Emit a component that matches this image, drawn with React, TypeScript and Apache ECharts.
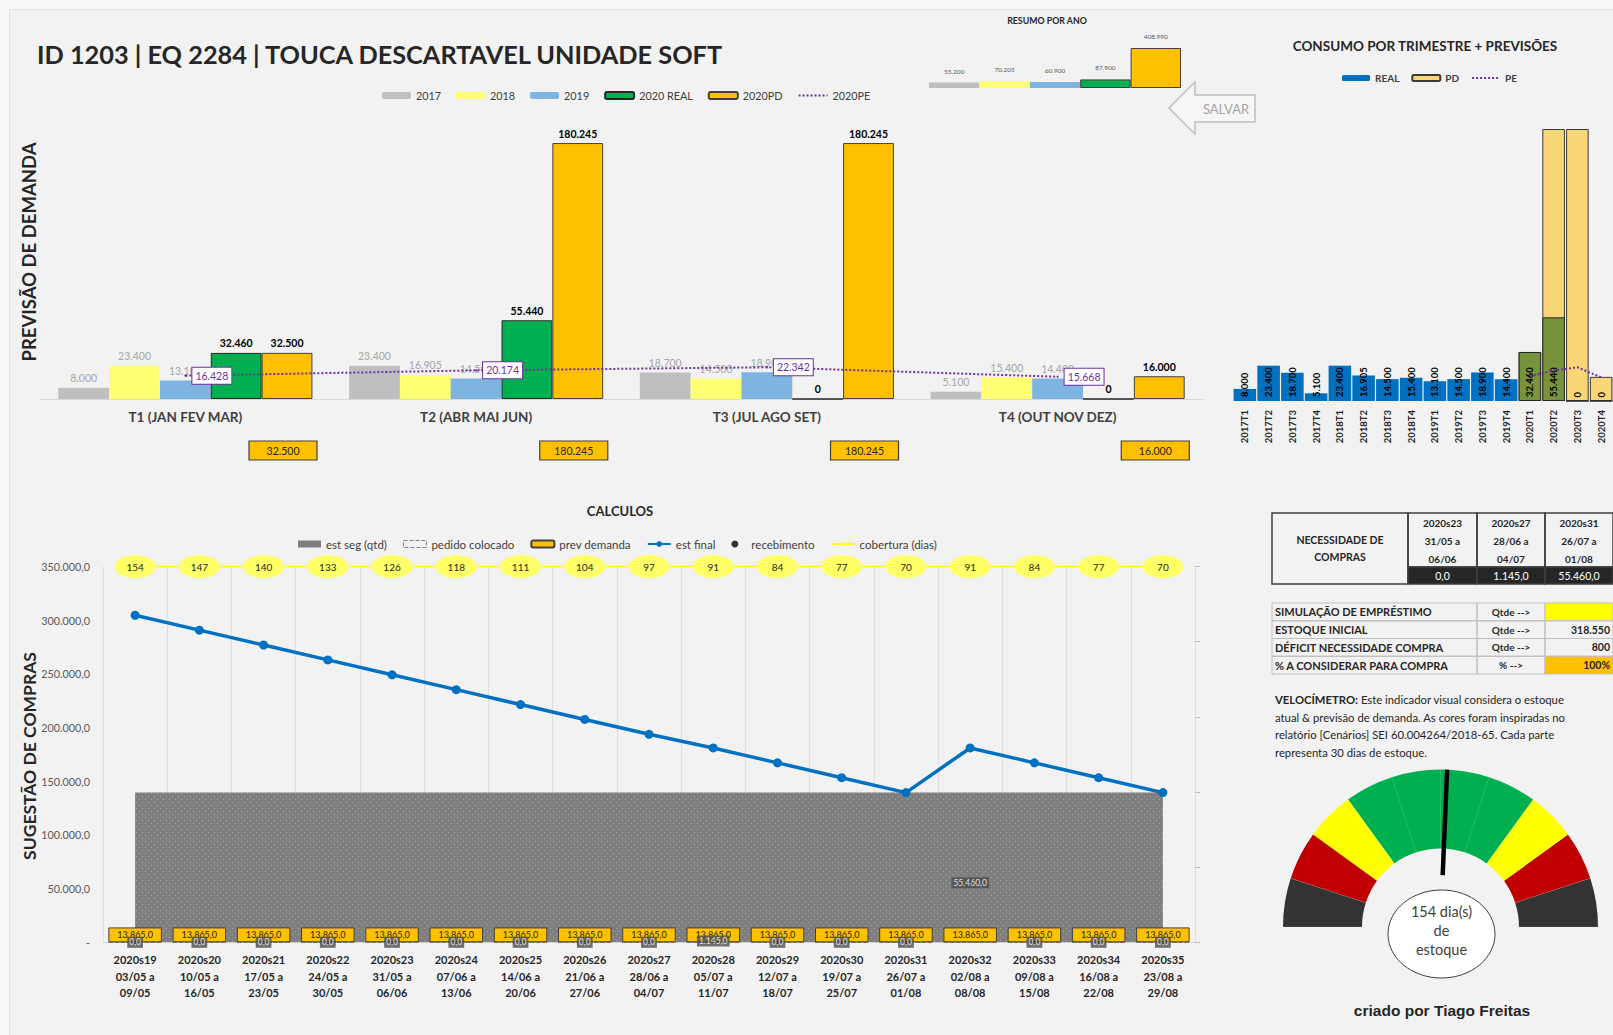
import React, { useEffect, useRef } from 'react';
import * as echarts from 'echarts';

const FONT = 'Lato, "Open Sans", sans-serif';

// ---------- Top chart: demand by quarter ----------
const QUARTERS = ['T1 (JAN FEV MAR)', 'T2 (ABR MAI JUN)', 'T3 (JUL AGO SET)', 'T4 (OUT NOV DEZ)'];
const D2017 = [8000, 23400, 18700, 5100];
const D2018 = [23400, 16905, 14500, 15400];
const D2019 = [13100, 14500, 18900, 14400];
const D2020_REAL = [32460, 55440, 0, 0];
const D2020_PD = [32500, 180245, 180245, 16000];
const D2020_PE = [16428, 20174, 22342, 15668];

// ---------- Summary per year ----------
const YEAR_NAMES = ['2017', '2018', '2019', '2020 REAL', '2020PD'];
const YEAR_TOTALS = [55200, 70205, 60900, 87900, 408990];

// ---------- Consumption per quarter ----------
const QTR_CODES = ['2017T1', '2017T2', '2017T3', '2017T4', '2018T1', '2018T2', '2018T3', '2018T4',
  '2019T1', '2019T2', '2019T3', '2019T4', '2020T1', '2020T2', '2020T3', '2020T4'];
const QTR_REAL = [8000, 23400, 18700, 5100, 23400, 16905, 14500, 15400, 13100, 14500, 18900, 14400, 32460, 55440, 0, 0];
const QTR_PD = [null, null, null, null, null, null, null, null, null, null, null, null, 32500, 180245, 180245, 16000];
const QTR_PE = [null, null, null, null, null, null, null, null, null, null, null, null, 16428, 20174, 22342, 15668];

// ---------- Calculations (weekly) ----------
const WEEK_CODES = ['2020s19', '2020s20', '2020s21', '2020s22', '2020s23', '2020s24', '2020s25', '2020s26', '2020s27',
  '2020s28', '2020s29', '2020s30', '2020s31', '2020s32', '2020s33', '2020s34', '2020s35'];
const WEEK_FROM = ['03/05', '10/05', '17/05', '24/05', '31/05', '07/06', '14/06', '21/06', '28/06',
  '05/07', '12/07', '19/07', '26/07', '02/08', '09/08', '16/08', '23/08'];
const WEEK_TO = ['09/05', '16/05', '23/05', '30/05', '06/06', '13/06', '20/06', '27/06', '04/07',
  '11/07', '18/07', '25/07', '01/08', '08/08', '15/08', '22/08', '29/08'];
const EST_SEG = [139450, 139450, 139450, 139450, 139450, 139450, 139450, 139450, 139450,
  139450, 139450, 139450, 139450, 139450, 139450, 139450, 139450];
const PEDIDO = [0, 0, 0, 0, 0, 0, 0, 0, 0, 0, 0, 0, 0, 0, 0, 0, 0];
const PREV_DEMANDA = [13865, 13865, 13865, 13865, 13865, 13865, 13865, 13865, 13865,
  13865, 13865, 13865, 13865, 13865, 13865, 13865, 13865];
const EST_FINAL = [304685, 290820, 276955, 263090, 249225, 235360, 221495, 207630, 193765,
  181045, 167180, 153315, 139450, 181045, 167180, 153315, 139450];
const RECEBIMENTO = [0, 0, 0, 0, 0, 0, 0, 0, 0, 1145, 0, 0, 0, 55460, 0, 0, 0];
const COBERTURA = [154, 147, 140, 133, 126, 118, 111, 104, 97, 91, 84, 77, 70, 91, 84, 77, 70];
const CALC_Y_MAX = 350000;
const CALC_Y_INTERVAL = 50000;
const COB_AXIS_MAX = 5;

// ---------- Tables ----------
const NEC_WEEKS = ['2020s23\n31/05 a\n06/06', '2020s27\n28/06 a\n04/07', '2020s31\n26/07 a\n01/08'];
const NEC_VALUES = [0, 1145, 55460];
const PARAM_LABELS = ['SIMULAÇÃO DE EMPRÉSTIMO', 'ESTOQUE INICIAL', 'DÉFICIT NECESSIDADE COMPRA', '% A CONSIDERAR PARA COMPRA'];
const PARAM_UNITS = ['Qtde -->', 'Qtde -->', 'Qtde -->', '% -->'];
const PARAM_VALUES = ['', '318.550', '800', '100%'];
const PARAM_FILLS = ['#ffff00', null, null, '#ffc000'];

const VELOC_LINES = [
  '{b|VELOCÍMETRO:} Este indicador visual considera o estoque',
  'atual & previsão de demanda. As cores foram inspiradas no',
  'relatório [Cenários] SEI 60.004264/2018-65. Cada parte',
  'representa 30 dias de estoque.',
];

// ---------- Gauge ----------
const GAUGE_DAYS = 154;
const GAUGE_MAX = 300;
const GAUGE_BANDS: [number, string][] = [
  [0.1, '#333333'], [0.2, '#c00000'], [0.3, '#ffff00'], [0.7, '#00b050'],
  [0.8, '#ffff00'], [0.9, '#c00000'], [1, '#333333'],
];

const fmtInt = (v: number) => Math.round(v).toString().replace(/\B(?=(\d{3})+(?!\d))/g, '.');
const fmtDec = (v: number) => fmtInt(v) + ',0';

const C2017 = '#bfbfbf';
const C2018 = '#ffff73';
const C2019 = '#80b4e0';
const CGREEN = '#00b050';
const CORANGE = '#ffc000';
const CPURPLE = '#7030a0';

function makeDots() {
  const c = document.createElement('canvas');
  c.width = 6; c.height = 6;
  const ctx = c.getContext('2d')!;
  ctx.fillStyle = '#7f7f7f';
  ctx.fillRect(0, 0, 6, 6);
  ctx.fillStyle = '#a8a8a8';
  ctx.fillRect(1, 1, 1, 1);
  ctx.fillRect(4, 4, 1, 1);
  return c;
}

const ELLIPSE = 'path://M0,50 A50,50 0 1,0 100,50 A50,50 0 1,0 0,50 Z';

function buildOption(dots: any) {
  const grayLabel = {
    show: true, position: 'top', distance: 4, fontSize: 10.5, color: '#a6a6a6', fontFamily: FONT,
    formatter: (p: any) => fmtInt(p.value),
  };
  const darkLabel = {
    show: true, position: 'top', distance: 4, fontSize: 10.5, fontWeight: 'bold', color: '#000', fontFamily: FONT,
    formatter: (p: any) => fmtInt(p.value),
  };
  const topBar = { type: 'bar', xAxisIndex: 0, yAxisIndex: 0, barGap: '0%', barCategoryGap: '12.6%' };

  return {
    animation: false,
    backgroundColor: '#f2f2f2',
    textStyle: { fontFamily: FONT },
    grid: [
      { left: 40, top: 115, width: 1163, height: 284, outerBoundsMode: 'none' },
      { left: 929, top: 48, width: 252, height: 40, outerBoundsMode: 'none' },
      { left: 1233, top: 129, width: 380, height: 272, outerBoundsMode: 'none' },
      { left: 103, top: 566.6, width: 1092, height: 375.7, outerBoundsMode: 'none' },
    ],
    legend: [
      {
        left: 377, top: 85, itemWidth: 29, itemHeight: 7, itemGap: 15, selectedMode: false,
        textStyle: { fontSize: 10.8, color: '#404040', fontFamily: FONT },
        data: ['2017', '2018', '2019', '2020 REAL', '2020PD', { name: '2020PE', itemStyle: { opacity: 0 } }],
      },
      {
        left: 1337, top: 68, itemWidth: 28, itemHeight: 6, itemGap: 12, selectedMode: false,
        textStyle: { fontSize: 10, color: '#404040', fontFamily: FONT, fontWeight: 'bold' },
        data: ['REAL', 'PD', { name: 'PE', itemStyle: { opacity: 0 } }],
      },
      {
        left: 293, top: 533, itemWidth: 23, itemHeight: 7, itemGap: 16, selectedMode: false,
        textStyle: { fontSize: 11.5, color: '#404040', fontFamily: FONT },
        data: [
          { name: 'est seg (qtd)', icon: 'rect', itemStyle: { color: '#7f7f7f' } },
          { name: 'pedido colocado', icon: 'rect', itemStyle: { color: '#f2f2f2', borderColor: '#7f7f7f', borderType: 'dashed', borderWidth: 1 } },
          'prev demanda', 'est final',
          { name: 'recebimento', icon: 'circle' },
          'cobertura (dias)',
        ],
      },
    ],
    xAxis: [
      {
        gridIndex: 0, type: 'category', data: QUARTERS,
        axisLine: { lineStyle: { color: '#d9d9d9' } }, axisTick: { show: false },
        axisLabel: { fontSize: 13.5, fontWeight: 'bold', color: '#404040', margin: 11, fontFamily: FONT },
      },
      { gridIndex: 1, type: 'category', data: YEAR_NAMES, show: false },
      {
        gridIndex: 2, type: 'category', data: QTR_CODES,
        axisLine: { show: false }, axisTick: { show: false },
        axisLabel: { rotate: 90, interval: 0, fontSize: 9.5, fontWeight: 'bold', color: '#262626', margin: 9, fontFamily: FONT },
      },
      {
        gridIndex: 3, type: 'category', data: WEEK_CODES,
        axisLine: { lineStyle: { color: '#d9d9d9' } }, axisTick: { show: false },
        splitLine: { show: true, interval: 0, lineStyle: { color: '#dedede' } },
        axisLabel: {
          interval: 0, fontSize: 11, fontWeight: 'bold', color: '#262626', lineHeight: 16.5, margin: 9, fontFamily: FONT,
          formatter: (v: string, i: number) => `${v}\n${WEEK_FROM[i]} a\n${WEEK_TO[i]}`,
        },
      },
    ],
    yAxis: [
      { gridIndex: 0, type: 'value', min: 0, max: 200000, show: false },
      { gridIndex: 1, type: 'value', min: 0, max: 408990, show: false },
      { gridIndex: 2, type: 'value', min: 0, max: 180245, show: false },
      {
        gridIndex: 3, type: 'value', min: 0, max: CALC_Y_MAX, interval: CALC_Y_INTERVAL,
        axisLine: { show: false }, axisTick: { show: false }, splitLine: { show: false },
        axisLabel: {
          fontSize: 10.8, color: '#595959', margin: 13, fontFamily: FONT,
          formatter: (v: number) => (v === 0 ? '-' : fmtDec(v)),
        },
      },
      {
        gridIndex: 3, type: 'value', position: 'right', min: 0, max: COB_AXIS_MAX, interval: 1,
        axisLine: { show: false }, axisTick: { show: true, length: 5, lineStyle: { color: '#bfbfbf' } },
        axisLabel: { show: false }, splitLine: { show: false },
      },
    ],
    series: [
      // --- top chart
      { ...topBar, name: '2017', data: D2017, itemStyle: { color: C2017 }, label: grayLabel },
      { ...topBar, name: '2018', data: D2018, itemStyle: { color: C2018 }, label: grayLabel },
      { ...topBar, name: '2019', data: D2019, itemStyle: { color: C2019 }, label: grayLabel },
      { ...topBar, name: '2020 REAL', data: D2020_REAL, itemStyle: { color: CGREEN, borderColor: '#262626', borderWidth: 1 }, label: darkLabel },
      { ...topBar, name: '2020PD', data: D2020_PD, itemStyle: { color: CORANGE, borderColor: '#404040', borderWidth: 1 }, label: darkLabel },
      {
        type: 'line', name: '2020PE', xAxisIndex: 0, yAxisIndex: 0, data: D2020_PE, z: 5,
        lineStyle: { type: 'dotted', color: CPURPLE, width: 2 }, itemStyle: { color: CPURPLE },
        symbol: 'circle', symbolSize: 2,
        label: {
          show: true, position: 'right', distance: 6, fontSize: 10.5, color: CPURPLE, backgroundColor: '#ffffff',
          borderColor: CPURPLE, borderWidth: 1, padding: [3, 3, 2, 3], fontFamily: FONT,
          formatter: (p: any) => fmtInt(p.value),
        },
      },
      // --- summary per year
      {
        type: 'bar', name: 'resumo', xAxisIndex: 1, yAxisIndex: 1, barCategoryGap: '0%',
        data: YEAR_TOTALS.map((v, i) => ({
          value: v,
          itemStyle: i >= 3
            ? { color: [CGREEN, CORANGE][i - 3], borderColor: '#404040', borderWidth: 1 }
            : { color: [C2017, C2018, C2019][i] },
        })),
        label: { show: true, position: 'top', distance: 8, fontSize: 6.5, color: '#595959', fontFamily: FONT, formatter: (p: any) => fmtInt(p.value) },
      },
      // --- consumption per quarter
      {
        type: 'bar', name: 'PD', xAxisIndex: 2, yAxisIndex: 2, data: QTR_PD, barGap: '-100%', barCategoryGap: '5%',
        itemStyle: { color: '#f9d776', borderColor: '#3a3a3a', borderWidth: 1 },
      },
      {
        type: 'bar', name: 'REAL', xAxisIndex: 2, yAxisIndex: 2, barGap: '-100%', barCategoryGap: '5%',
        itemStyle: { color: '#0070c0' },
        data: QTR_REAL.map((v, i) => (QTR_CODES[i].startsWith('2020')
          ? { value: v, itemStyle: { color: '#77933c', borderColor: '#262626', borderWidth: 1 } }
          : v)),
        label: {
          show: true, position: 'insideBottom', rotate: 90, align: 'left', verticalAlign: 'middle', distance: 4,
          fontSize: 9.5, fontWeight: 'bold', color: '#000', fontFamily: FONT, formatter: (p: any) => fmtInt(p.value),
        },
      },
      {
        type: 'line', name: 'PE', xAxisIndex: 2, yAxisIndex: 2, data: QTR_PE, symbol: 'none',
        lineStyle: { type: 'dotted', color: CPURPLE, width: 2 }, itemStyle: { color: CPURPLE }, z: 5,
      },
      // --- calculations
      {
        type: 'line', name: 'est seg (qtd)', xAxisIndex: 3, yAxisIndex: 3, data: EST_SEG, symbol: 'none', z: 1,
        lineStyle: { width: 0, color: '#7f7f7f' }, itemStyle: { color: '#7f7f7f' },
        areaStyle: { color: { image: dots, repeat: 'repeat' }, opacity: 1 },
      },
      {
        type: 'bar', name: 'pedido colocado', xAxisIndex: 3, yAxisIndex: 3, data: PEDIDO, barGap: '-100%', barCategoryGap: '16.7%',
        itemStyle: { color: 'rgba(255,255,255,0)', borderColor: '#7f7f7f', borderType: 'dashed', borderWidth: 1 },
      },
      {
        type: 'bar', name: 'prev demanda', xAxisIndex: 3, yAxisIndex: 3, data: PREV_DEMANDA, barGap: '-100%', barCategoryGap: '16.7%',
        itemStyle: { color: CORANGE, borderColor: '#404040', borderWidth: 1 },
        label: { show: true, position: 'inside', fontSize: 9, color: '#262626', fontFamily: FONT, formatter: (p: any) => fmtDec(p.value) },
      },
      {
        type: 'line', name: 'est final', xAxisIndex: 3, yAxisIndex: 3, data: EST_FINAL, z: 4,
        symbol: 'circle', symbolSize: 9, lineStyle: { color: '#0070c0', width: 3.5 }, itemStyle: { color: '#0070c0' },
      },
      {
        type: 'scatter', name: 'recebimento', xAxisIndex: 3, yAxisIndex: 3, data: RECEBIMENTO, z: 6,
        symbol: 'circle', symbolSize: 4, itemStyle: { color: '#000' },
        label: {
          show: true, position: 'inside', fontSize: 8.5, color: '#ffffff', backgroundColor: '#4d4d4d',
          padding: [1, 2], fontFamily: FONT, formatter: (p: any) => fmtDec(p.value),
        },
      },
      {
        type: 'line', name: 'cobertura (dias)', xAxisIndex: 3, yAxisIndex: 4, z: 5, clip: false,
        data: COBERTURA.map((d) => Math.min(d, COB_AXIS_MAX)),
        symbol: ELLIPSE, symbolSize: [41, 23],
        lineStyle: { color: '#ffff00', width: 1.5 }, itemStyle: { color: '#ffff66' },
        label: {
          show: true, position: 'inside', fontSize: 10, color: '#262626', fontFamily: FONT,
          formatter: (p: any) => String(COBERTURA[p.dataIndex]),
        },
      },
      // --- gauge
      {
        type: 'gauge', name: 'velocimetro', center: [1440.5, 927], radius: 157.5, startAngle: 180, endAngle: 0,
        min: 0, max: GAUGE_MAX, splitNumber: 10,
        axisLine: { lineStyle: { width: 79, color: GAUGE_BANDS } },
        splitLine: { show: true, length: 79, distance: -79, lineStyle: { color: 'rgba(255,255,255,0.13)', width: 1 } },
        axisTick: { show: false }, axisLabel: { show: false }, progress: { show: false },
        pointer: { show: true, icon: 'rect', width: 4.5, length: '100%', itemStyle: { color: '#000000' } },
        anchor: { show: false }, title: { show: false }, detail: { show: false },
        data: [{ value: GAUGE_DAYS }],
      },
    ],
  };
}

function txt(x: number, y: number, text: string, o: any = {}) {
  return {
    type: 'text', x, y, z: o.z ?? 10, rotation: o.rotation ?? 0, silent: true,
    style: {
      text, fill: o.fill ?? '#262626', fontSize: o.fontSize ?? 10, fontWeight: o.fontWeight ?? 'normal',
      fontFamily: o.fontFamily ?? FONT, align: o.align ?? 'left', verticalAlign: o.verticalAlign ?? 'middle',
      lineHeight: o.lineHeight, rich: o.rich,
    },
  };
}
function rect(x: number, y: number, w: number, h: number, fill: string, stroke?: string, lw = 1, z = 10) {
  return { type: 'rect', z, silent: true, shape: { x, y, width: w, height: h }, style: { fill, stroke: stroke ?? 'none', lineWidth: lw } };
}

function buildGraphics(chart: any) {
  const g: any[] = [];
  // page frame
  g.push(rect(0, 0, 1613, 9, '#f9f9f9', undefined, 0, 0));
  g.push(rect(0, 0, 9, 1035, '#f9f9f9', undefined, 0, 0));
  g.push({ type: 'line', z: 0, silent: true, shape: { x1: 9.5, y1: 9.5, x2: 1613, y2: 9.5 }, style: { stroke: '#e2e2e2', lineWidth: 1 } });
  g.push({ type: 'line', z: 0, silent: true, shape: { x1: 9.5, y1: 9.5, x2: 9.5, y2: 1035 }, style: { stroke: '#e2e2e2', lineWidth: 1 } });

  // titles
  g.push(txt(37, 54, 'ID 1203 | EQ 2284 | TOUCA DESCARTAVEL UNIDADE SOFT', { fontSize: 25.3, fontWeight: 'bold' }));
  g.push(txt(29, 252, 'PREVISÃO DE DEMANDA', { fontSize: 18.5, fontWeight: 'bold', align: 'center', rotation: Math.PI / 2 }));
  g.push(txt(29, 756, 'SUGESTÃO DE COMPRAS', { fontSize: 17.5, fontWeight: 'bold', align: 'center', rotation: Math.PI / 2 }));
  g.push(txt(1047, 20, 'RESUMO POR ANO', { fontSize: 8.8, fontWeight: 'bold', align: 'center' }));
  g.push(txt(1425, 46, 'CONSUMO POR TRIMESTRE + PREVISÕES', { fontSize: 13.5, fontWeight: 'bold', align: 'center' }));
  g.push(txt(620, 511, 'CALCULOS', { fontSize: 13, fontWeight: 'bold', align: 'center' }));

  // SALVAR arrow
  g.push({
    type: 'polygon', z: 10, silent: true,
    shape: { points: [[1169, 108], [1195, 82], [1195, 95], [1255, 95], [1255, 122], [1195, 122], [1195, 134]] },
    style: { fill: '#f6f6f6', stroke: '#bfbfbf', lineWidth: 1.5 },
  });
  g.push(txt(1226, 108.5, 'SALVAR', { fontSize: 13, fill: '#a6a6a6', align: 'center' }));

  // PD value boxes below the quarter chart
  const f = { xAxisIndex: 0, yAxisIndex: 0 };
  const p0 = chart.convertToPixel(f, [0, 0]);
  const p1 = chart.convertToPixel(f, [1, 0]);
  const band = p1[0] - p0[0];
  const bw = (band * (1 - 0.126)) / 5;
  D2020_PD.forEach((v, i) => {
    const c = chart.convertToPixel(f, [i, 0]);
    const cx = c[0] + 2 * bw - 4;
    g.push(rect(cx - 34, 441, 68, 19, CORANGE, '#404040', 1.2));
    g.push(txt(cx, 450.5, fmtInt(v), { fontSize: 10.5, align: 'center', fill: '#262626' }));
  });

  // Table: necessidade de compras
  const tx = 1272, ty = 513;
  g.push(rect(tx, ty, 136, 71, 'none', '#3f3f3f', 1.5));
  g.push(txt(tx + 68, ty + 35.5, 'NECESSIDADE DE\nCOMPRAS', { fontSize: 10.5, fontWeight: 'bold', align: 'center', lineHeight: 17 }));
  const colX = [1408, 1477, 1545, 1613];
  NEC_WEEKS.forEach((w, j) => {
    const x = colX[j], cw = colX[j + 1] - colX[j];
    g.push(rect(x, ty, cw, 54, 'none', '#3f3f3f', 1.5));
    g.push(txt(x + cw / 2, ty + 27.5, w, { fontSize: 10, fontWeight: 'bold', align: 'center', lineHeight: 18 }));
    g.push(rect(x, ty + 54, cw, 17, '#262626', '#3f3f3f', 1.5));
    g.push(txt(x + cw / 2, ty + 62.5, fmtDec(NEC_VALUES[j]), { fontSize: 10.5, fill: '#ffffff', align: 'center' }));
  });

  // Table: parameters
  const py = 603, rh = 17.75;
  const pCols = [1272, 1477, 1545, 1613];
  PARAM_LABELS.forEach((lab, r) => {
    const y = py + r * rh;
    g.push(rect(pCols[0], y, pCols[1] - pCols[0], rh, 'none', '#bfbfbf', 1));
    g.push(rect(pCols[1], y, pCols[2] - pCols[1], rh, 'none', '#bfbfbf', 1));
    g.push(rect(pCols[2], y, pCols[3] - pCols[2], rh, PARAM_FILLS[r] ?? 'none', '#bfbfbf', 1));
    g.push(txt(pCols[0] + 3, y + rh / 2, lab, { fontSize: 11, fontWeight: 'bold' }));
    g.push(txt((pCols[1] + pCols[2]) / 2, y + rh / 2, PARAM_UNITS[r], { fontSize: 10, fontWeight: 'bold', align: 'center' }));
    g.push(txt(pCols[3] - 3, y + rh / 2, PARAM_VALUES[r], { fontSize: 10.5, fontWeight: 'bold', align: 'right' }));
  });

  // Velocimetro text
  g.push(txt(1275, 691, VELOC_LINES.join('\n'), {
    fontSize: 11.3, verticalAlign: 'top', lineHeight: 17.5,
    rich: { b: { fontWeight: 'bold', fontSize: 11.3, fill: '#262626', fontFamily: FONT, lineHeight: 17.5 } },
  }));

  // gauge hub
  g.push({ type: 'circle', z: 100, silent: true, shape: { cx: 1440.5, cy: 927, r: 52 }, style: { fill: '#f2f2f2' } });
  g.push({ type: 'ellipse', z: 101, silent: true, shape: { cx: 1441.5, cy: 934, rx: 53.5, ry: 44 }, style: { fill: '#ffffff', stroke: '#404040', lineWidth: 1 } });
  g.push(txt(1441.5, 930, `${GAUGE_DAYS} dia(s)\nde\nestoque`, { fontSize: 14.5, fill: '#404040', align: 'center', lineHeight: 19, z: 102 }));

  g.push(txt(1442, 1010, 'criado por Tiago Freitas', { fontSize: 15.5, fontWeight: 'bold', align: 'center', fontFamily: '"Liberation Sans", Arial, sans-serif' }));
  return g;
}

export default function App() {
  const ref = useRef<HTMLDivElement>(null);
  useEffect(() => {
    const chart = echarts.init(ref.current!, null, { renderer: 'svg' });
    chart.setOption(buildOption(makeDots()) as any);
    chart.setOption({ graphic: { elements: buildGraphics(chart) } } as any);
    return () => chart.dispose();
  }, []);
  return <div ref={ref} style={{ position: 'absolute', left: 0, top: 0, width: 1613, height: 1035 }} />;
}
